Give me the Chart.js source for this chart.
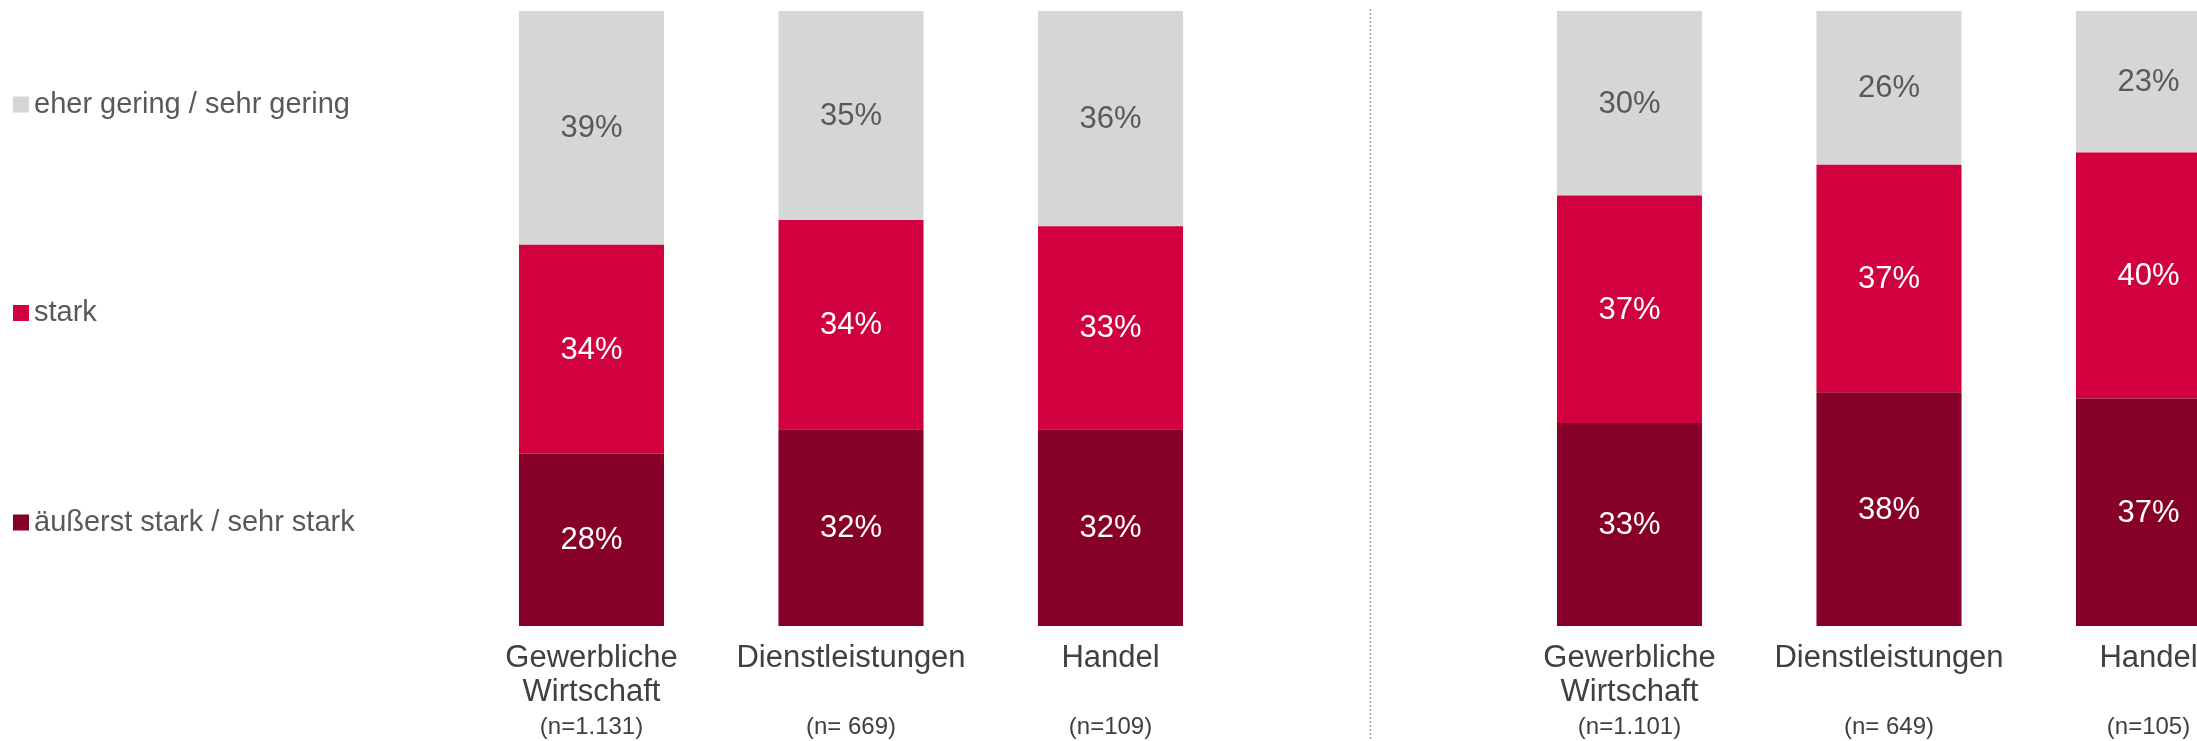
<!DOCTYPE html>
<html>
<head>
<meta charset="utf-8">
<script src="https://cdn.jsdelivr.net/npm/chart.js@4.4.1/dist/chart.umd.min.js"></script>
<style>
  html, body { margin: 0; padding: 0; background: #fff; overflow: hidden; }
  #wrap { position: absolute; left: 0; top: 0; width: 2290px; height: 741px; }
</style>
</head>
<body>
<div id="wrap"><canvas id="chart" width="2290" height="741"></canvas></div>
<script>
// categories (empty slot in the middle separates the two panels)
const categoryLines = [
  ["Gewerbliche", "Wirtschaft"], ["Dienstleistungen"], ["Handel"], [""],
  ["Gewerbliche", "Wirtschaft"], ["Dienstleistungen"], ["Handel"]
];
const sampleSizes = ["(n=1.131)", "(n= 669)", "(n=109)", "", "(n=1.101)", "(n= 649)", "(n=105)"];

// series values in percent
const aeusserstStark = [28, 32, 32, null, 33, 38, 37];
const stark = [34, 34, 33, null, 37, 37, 40];
const eherGering = [39, 35, 36, null, 30, 26, 23];

const seriesLabels = ["äußerst stark / sehr stark", "stark", "eher gering / sehr gering"];
const seriesColors = ["#86002a", "#d1003f", "#d6d6d6"];

const FONT = "'Liberation Sans', Arial, sans-serif";

const valueLabels = {
  id: "valueLabels",
  afterDatasetsDraw(chart) {
    const ctx = chart.ctx;
    const area = chart.chartArea;
    ctx.save();
    ctx.font = "31px " + FONT;
    ctx.textAlign = "center";
    ctx.textBaseline = "middle";
    chart.data.datasets.forEach((ds, i) => {
      const meta = chart.getDatasetMeta(i);
      meta.data.forEach((bar, j) => {
        const v = ds.data[j];
        if (v == null) return;
        const top = Math.max(bar.y, area.top);
        const mid = (top + bar.base) / 2;
        ctx.fillStyle = i === 2 ? "#595959" : "#ffffff";
        ctx.fillText(v + "%", bar.x, mid + 1);
      });
    });
    ctx.restore();
  }
};

const sideLegend = {
  id: "sideLegend",
  afterDraw(chart, args, opts) {
    const ctx = chart.ctx;
    ctx.save();
    ctx.font = "29px " + FONT;
    ctx.textAlign = "left";
    ctx.textBaseline = "alphabetic";
    // top to bottom: reversed dataset order
    const order = [2, 1, 0];
    order.forEach((di, k) => {
      const ds = chart.data.datasets[di];
      const cy = opts.rows[k];
      ctx.fillStyle = ds.backgroundColor;
      ctx.fillRect(13, cy - 8, 16, 16);
      ctx.fillStyle = "#595959";
      ctx.fillText(ds.label, 34, cy + 8);
    });
    ctx.restore();
  }
};

const divider = {
  id: "divider",
  afterDraw(chart) {
    const ctx = chart.ctx;
    const x = Math.round(chart.scales.x.getPixelForValue(3)) + 0.5;
    ctx.save();
    ctx.strokeStyle = "#a6a6a6";
    ctx.lineWidth = 1.5;
    ctx.setLineDash([2, 2]);
    ctx.beginPath();
    ctx.moveTo(x, 9);
    ctx.lineTo(x, chart.height);
    ctx.stroke();
    ctx.restore();
  }
};

const datasets = [aeusserstStark, stark, eherGering].map((data, i) => ({
  label: seriesLabels[i],
  data: data,
  backgroundColor: seriesColors[i],
  borderWidth: 0,
  barPercentage: 0.559,
  categoryPercentage: 1
}));

new Chart(document.getElementById("chart"), {
  type: "bar",
  data: { labels: categoryLines, datasets: datasets },
  options: {
    responsive: false,
    animation: false,
    layout: { padding: { left: 461.75, right: 11.75, top: 11, bottom: 0 } },
    plugins: {
      legend: { display: false },
      tooltip: { enabled: false },
      sideLegend: { rows: [104.5, 313, 522.5] }
    },
    scales: {
      x: {
        stacked: true,
        weight: 1,
        border: { display: false },
        grid: { display: false, drawTicks: false },
        afterFit(scale) { scale.height = 83.5; },
        ticks: {
          color: "#404040",
          font: { family: FONT, size: 31, lineHeight: 1.1 },
          padding: 15,
          maxRotation: 0,
          autoSkip: false
        }
      },
      x2: {
        type: "category",
        labels: sampleSizes,
        position: "bottom",
        offset: true,
        weight: 2,
        border: { display: false },
        grid: { display: false, drawTicks: false },
        afterFit(scale) { scale.height = 31.5; },
        ticks: {
          color: "#404040",
          font: { family: FONT, size: 24, lineHeight: 1.2 },
          padding: 3,
          maxRotation: 0,
          autoSkip: false
        }
      },
      y: {
        stacked: true,
        display: false,
        min: 0,
        max: 100
      }
    }
  },
  plugins: [valueLabels, sideLegend, divider]
});
</script>
</body>
</html>
